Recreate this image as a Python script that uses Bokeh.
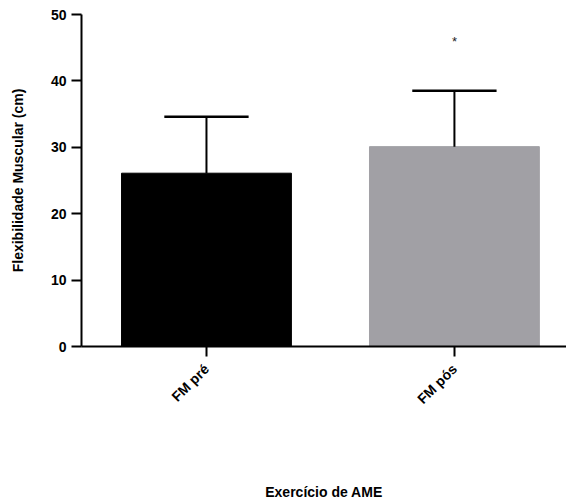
import math
from bokeh.plotting import figure
from bokeh.models import Range1d, FixedTicker, ColumnDataSource
from bokeh.core.properties import value
from bokeh.embed import file_html
from bokeh.resources import INLINE

categories = ["FM pré", "FM pós"]
means = [26.1, 30.1]
sd_upper = [8.5, 8.4]
bar_colors = ["#000000", "#A1A0A5"]
star_label = "*"
star_y = 45.9
y_ticks = [0, 10, 20, 30, 40, 50]

xs = [i + 1 for i in range(len(categories))]
tops = [m + s for m, s in zip(means, sd_upper)]
cap_half = 0.17

FONT = "Liberation Sans"

p = figure(width=566, height=503, output_backend="svg", toolbar_location=None,
           x_range=Range1d(0.496, 2.452), y_range=Range1d(0, 50),
           min_border_left=81, min_border_right=0, min_border_top=14,
           min_border_bottom=157)
p.outline_line_color = None
p.grid.visible = False

src = ColumnDataSource(dict(x=xs, top=means, color=bar_colors, etop=tops,
                            x0=[x - cap_half for x in xs], x1=[x + cap_half for x in xs]))
p.vbar(x="x", top="top", bottom=0, width=0.685, color="color", source=src)
p.segment(x0="x", y0="top", x1="x", y1="etop", line_color="black", line_width=2, source=src)
p.segment(x0="x0", y0="etop", x1="x1", y1="etop", line_color="black", line_width=2.5, source=src)
p.text(x=[xs[1]], y=[star_y], text=[star_label], text_align="center", text_baseline="middle",
       text_font=value(FONT), text_font_size="13px", text_color="#222222")

# y axis
ya = p.yaxis[0]
ya.ticker = FixedTicker(ticks=y_ticks)
ya.minor_tick_line_color = None
ya.axis_line_width = 2
ya.major_tick_line_width = 2
ya.major_tick_out = 10
ya.major_tick_in = 0
ya.major_label_standoff = 5
ya.major_label_text_font = FONT
ya.major_label_text_font_style = "bold"
ya.major_label_text_font_size = "14px"
ya.major_label_text_color = "black"
ya.axis_label = "Flexibilidade Muscular (cm)"
ya.axis_label_text_font = FONT
ya.axis_label_text_font_style = "bold"
ya.axis_label_text_font_size = "14px"
ya.axis_label_text_color = "black"
ya.axis_label_standoff = 22

# x axis
xa = p.xaxis[0]
xa.ticker = FixedTicker(ticks=xs)
xa.major_label_overrides = {x: c for x, c in zip(xs, categories)}
xa.minor_tick_line_color = None
xa.axis_line_width = 2
xa.major_tick_line_width = 2
xa.major_tick_out = 10
xa.major_tick_in = 0
xa.major_label_orientation = math.pi / 4
xa.major_label_standoff = 10
xa.major_label_text_font = FONT
xa.major_label_text_font_style = "bold"
xa.major_label_text_font_size = "14px"
xa.major_label_text_color = "black"
xa.axis_label = "Exercício de AME"
xa.axis_label_text_font = FONT
xa.axis_label_text_font_style = "bold"
xa.axis_label_text_font_size = "14px"
xa.axis_label_text_color = "black"
xa.axis_label_standoff = 69

open("out.html", "w").write(file_html(p, INLINE))
